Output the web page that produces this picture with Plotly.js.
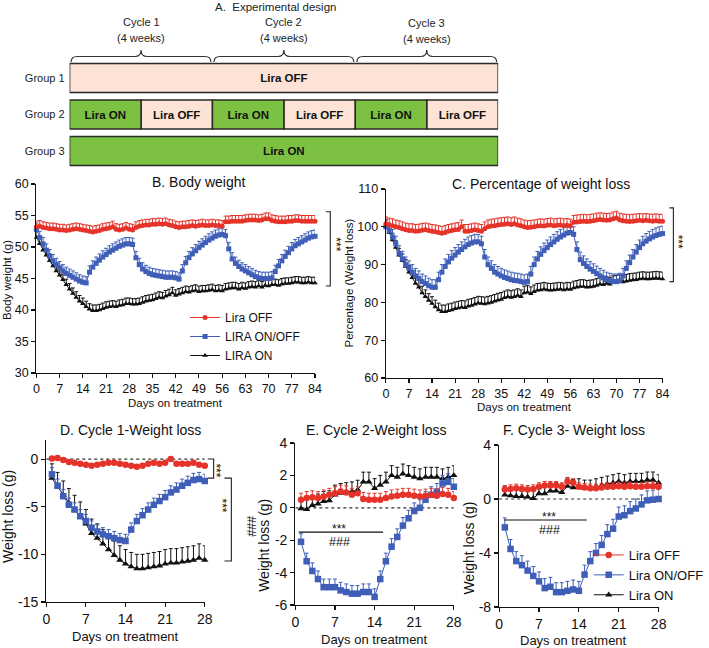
<!DOCTYPE html>
<html>
<head>
<meta charset="utf-8">
<script src="https://cdn.plot.ly/plotly-3.0.1.min.js"></script>
<style>
  html, body { margin: 0; padding: 0; background: #fff; }
  #chart { width: 709px; height: 648px; }
</style>
</head>
<body>
<div id="chart"></div>
<script>
'use strict';

// ---------- A. experimental design ----------
const cycleBounds = [0, 28, 56, 84];
const cycleNames = ['Cycle 1', 'Cycle 2', 'Cycle 3'];
const cycleLength = '(4 weeks)';
const groupNames = ['Group 1', 'Group 2', 'Group 3'];
const segGroup = [1, 2, 2, 2, 2, 2, 2, 3];
const segStart = [0, 0, 14, 28, 42, 56, 70, 0];
const segLength = [84, 14, 14, 14, 14, 14, 14, 84];
const segLabel = ['Lira OFF', 'Lira ON', 'Lira OFF', 'Lira ON', 'Lira OFF', 'Lira ON', 'Lira OFF', 'Lira ON'];

// ---------- B. body weight (g), days 0..84 ----------
const bwOff = [53.2,53.3,53.1,53.0,52.9,52.9,52.8,52.7,52.7,52.6, 52.7,52.8,52.9,52.8,52.7,52.6,52.5,52.4,52.5,52.6,
  52.8,52.9,53.0,53.2,52.8,52.7,52.8,53.0,52.8,52.7, 53.1,53.3,53.4,53.5,53.5,53.6,53.6,53.7,53.6,53.7,
  53.5,53.4,53.2,53.1,53.2,53.2,53.3,53.4,53.3,53.4, 53.5,53.4,53.4,53.5,53.4,53.4,53.3,54.0,54.0,54.1,
  54.1,54.1,54.1,54.2,54.3,54.3,54.3,54.2,54.3,54.5, 54.5,54.2,54.1,54.0,54.0,54.0,54.1,54.1,54.2,54.2,
  54.1,54.1,54.1,54.1,54.1];
const bwOnOff = [52.8,51.5,50.5,49.5,48.6,47.8,47.2,46.7,46.2,45.8, 45.5,45.2,44.9,44.6,44.4,44.3,46.0,46.8,47.4,47.9,
  48.4,48.8,49.2,49.5,49.8,50.1,50.3,50.5,50.5,50.4, 48.3,47.2,46.5,46.1,45.8,45.6,45.5,45.4,45.3,45.2,
  45.2,45.2,45.1,44.9,46.2,47.5,48.3,48.9,49.4,49.9, 50.3,50.7,51.1,51.4,51.7,51.9,52.0,51.8,49.7,48.1,
  47.4,46.9,46.5,46.2,45.9,45.6,45.3,45.1,45.0,45.0, 45.0,45.1,46.1,47.0,47.8,48.5,49.1,49.7,50.2,50.5,
  50.8,51.1,51.4,51.6,51.7];
const bwOn = [51.5,50.5,49.5,48.7,47.8,47.0,46.2,45.5,44.8,44.0, 43.3,42.6,42.0,41.4,41.0,40.5,40.1,39.9,39.9,40.0,
  40.2,40.4,40.5,40.6,40.5,40.7,40.8,41.0,41.0,40.9, 40.9,41.0,41.2,41.4,41.5,41.6,41.8,42.0,41.9,42.2,
  42.4,42.7,42.3,42.5,42.7,42.9,42.8,43.0,43.1,42.9, 43.0,43.0,43.1,43.2,43.0,43.1,43.0,43.3,43.4,43.5,
  43.5,43.3,43.5,43.4,43.6,43.7,43.6,43.8,43.6,43.9, 43.8,44.0,44.0,43.9,44.1,44.2,44.2,44.3,44.4,44.4,
  44.3,44.3,44.4,44.3,44.3];

// ---------- C. percentage of initial weight, days 0..84 ----------
const pctOff = [100.8,100.5,100.3,100.0,99.8,99.5,99.2,99.0,99.0,98.8, 98.9,99.1,99.2,99.0,98.8,98.7,98.5,98.3,98.5,98.8,
  99.0,99.2,99.3,100.0,98.8,98.8,99.0,99.2,99.0,98.8, 99.5,100.0,100.2,100.3,100.5,100.6,100.7,100.8,100.6,100.8,
  100.5,100.3,100.0,99.8,99.9,100.0,100.2,100.3,100.2,100.4, 100.5,100.3,100.4,100.5,100.3,100.4,100.2,101.2,101.3,101.4,
  101.5,101.4,101.5,101.6,101.8,101.9,101.8,101.7,101.8,102.1, 102.3,101.8,101.6,101.5,101.4,101.5,101.6,101.7,101.6,101.7,
  101.6,101.5,101.6,101.5,101.5];
const pctOnOff = [100.0,99.0,97.3,95.5,93.0,91.5,90.0,89.0,88.0,87.0, 86.3,85.5,85.0,84.4,84.0,84.0,86.0,88.0,89.5,90.7,
  91.7,92.5,93.3,94.0,94.7,95.3,95.7,96.0,96.0,95.5, 92.0,90.0,89.0,88.0,87.5,87.0,86.6,86.3,86.0,85.8,
  85.7,85.5,85.3,85.5,87.5,90.0,91.5,92.7,93.7,94.5, 95.3,96.0,96.7,97.3,97.8,98.3,98.5,98.0,94.0,91.3,
  90.3,89.5,88.8,88.2,87.6,87.0,86.5,86.0,85.7,85.5, 85.5,85.7,87.0,89.0,90.5,92.0,93.3,94.5,95.5,96.2,
  96.8,97.3,97.7,98.0,98.2];
const pctOn = [100.0,98.5,96.5,94.5,92.5,91.0,89.5,88.0,86.5,85.0, 84.0,82.5,81.5,80.5,79.7,78.8,78.0,77.5,77.5,77.8,
  78.0,78.3,78.5,78.7,78.6,79.0,79.2,79.5,79.8,79.7, 79.6,79.8,80.0,80.3,80.6,80.8,81.2,81.5,81.3,81.5,
  81.8,81.5,82.5,82.7,82.3,82.8,83.2,83.3,83.5,83.3, 83.2,83.3,83.4,83.5,83.3,83.5,83.4,83.8,84.0,84.2,
  84.2,84.0,84.1,84.2,84.5,84.8,84.7,85.0,84.8,85.2, 85.3,85.5,85.4,85.6,85.8,85.9,86.0,86.2,86.3,86.2,
  86.2,86.3,86.4,86.3,86.2];

// ---------- D/E/F. weight loss within each cycle (g), days 1..28 ----------
const dOff = [0.05,0.1,-0.1,-0.3,-0.4,-0.5,-0.6,-0.7,-0.6,-0.5, -0.4,-0.4,-0.5,-0.6,-0.7,-0.8,-0.7,-0.5,-0.4,-0.5,
  -0.4,0.0,-0.5,-0.5,-0.5,-0.4,-0.6,-0.7];
const dOnOff = [-1.6,-2.8,-3.9,-4.8,-5.3,-6.0,-6.5,-7.2,-7.6,-7.9, -8.1,-8.3,-8.5,-8.6,-7.4,-6.5,-5.9,-5.3,-4.8,-4.4,
  -4.0,-3.5,-3.2,-2.8,-2.5,-2.2,-2.1,-2.3];
const dOn = [-2.0,-2.9,-3.8,-4.6,-5.3,-6.0,-6.8,-7.8,-8.3,-8.9, -9.5,-10.1,-10.6,-11.0,-11.3,-11.5,-11.5,-11.4,-11.3,-11.2,
  -11.0,-10.9,-10.9,-10.8,-10.7,-10.6,-10.4,-10.6];

const eOff = [0.5,0.6,0.65,0.6,0.7,0.8,0.9,1.0,0.95,0.8, 0.9,0.55,0.5,0.5,0.5,0.6,0.7,0.75,0.8,0.8,
  0.75,0.7,0.75,0.8,0.75,0.85,0.8,0.6];
const eOnOff = [-2.1,-3.3,-3.9,-4.4,-4.9,-4.9,-4.9,-5.1,-5.2,-5.3, -5.3,-5.2,-5.2,-5.5,-4.4,-3.3,-2.4,-1.8,-1.1,-0.65,
  -0.2,0.0,0.5,0.8,1.0,1.5,1.6,1.3];
const eOn = [-0.05,-0.1,0.15,0.25,0.4,0.45,0.8,0.9,0.95,1.0, 1.1,1.6,1.6,1.2,1.4,1.6,2.0,1.9,2.1,2.0,
  1.9,1.8,1.9,1.9,1.9,1.8,1.9,2.0];

const fOff = [0.7,0.75,0.8,0.75,0.7,0.75,0.9,1.0,1.0,1.0, 0.9,1.3,1.2,0.9,0.85,0.8,0.8,0.85,0.9,0.9,
  0.95,0.9,0.95,0.9,0.9,0.95,0.95,0.9];
const fOnOff = [-2.1,-3.7,-4.6,-4.9,-5.3,-5.7,-6.1,-6.6,-6.5,-6.9, -6.9,-6.8,-6.7,-6.8,-5.6,-4.6,-4.0,-3.4,-2.6,-2.2,
  -1.3,-1.2,-0.9,-0.7,-0.4,-0.1,-0.05,0.0];
const fOn = [0.3,0.25,0.2,0.2,0.15,0.05,0.4,0.4,0.6,0.6, 0.5,0.95,0.85,0.9,0.8,0.8,0.9,1.0,1.1,1.2,
  1.3,1.2,1.3,1.3,1.3,1.4,1.4,1.2];

// upward SEM bars, one value per series
const semB = {off: 0.9, onoff: 1.0, on: 0.9};
const semC = {off: 1.8, onoff: 2.0, on: 1.8};
const semD = {off: 0.2, onoff: 0.7, on: 1.5};
const semE = {off: 0.4, onoff: 0.5, on: 0.6};
const semF = {off: 0.3, onoff: 0.7, on: 0.6};

// tick labels (plain hyphen minus, as in the figure)
const dTicks = [-15, -10, -5, 0];
const eTicks = [-6, -4, -2, 0, 2, 4];
const fTicks = [-8, -4, 0, 4];
const tickText = v => String(v);

const legendB = {off: 'Lira OFF', onoff: 'LIRA ON/OFF', on: 'LIRA ON'};
const legendF = {off: 'Lira OFF', onoff: 'Lira ON/OFF', on: 'Lira ON'};

// ---------- styling ----------
const W = 709, H = 648;
const X = px => px / W;
const Y = py => 1 - py / H;
const FONT = 'Liberation Sans, Arial, sans-serif';
const INK = '#111';
const GREEN = '#7DC142';
const PINK = '#FCE3D5';
const STYLE = {
    off: {color: '#E5332A', symbol: 'circle'},
    onoff: {color: '#3E5EB8', symbol: 'square'},
    on: {color: '#111111', symbol: 'triangle-up'}
};

const daysLong = Array.from({length: 85}, (_, i) => i);
const daysShort = Array.from({length: 28}, (_, i) => i + 1);

function series(key, x, y, sem, ax, size, name, legend) {
    const s = STYLE[key];
    return {
        type: 'scatter', mode: 'lines+markers', x: x, y: y,
        xaxis: ax[0], yaxis: ax[1], cliponaxis: false,
        name: name || key, showlegend: !!name, legend: legend || 'legend',
        line: {color: s.color, width: 1},
        marker: {color: s.color, symbol: s.symbol, size: size, line: {width: 0}},
        error_y: {type: 'constant', symmetric: false, value: sem[key], valueminus: 0,
            color: s.color, thickness: 1, width: 2},
        hoverinfo: 'skip'
    };
}

function designTrace(label, color) {
    const idx = segLabel.map((l, i) => l === label ? i : -1).filter(i => i >= 0);
    return {
        type: 'bar', orientation: 'h', xaxis: 'x6', yaxis: 'y6',
        y: idx.map(i => segGroup[i]), x: idx.map(i => segLength[i]), base: idx.map(i => segStart[i]),
        width: 0.8, showlegend: false, hoverinfo: 'skip',
        marker: {color: color, line: {color: '#2a2a2a', width: 1.5}},
        text: idx.map(i => '<b>' + segLabel[i] + '</b>'),
        textposition: 'inside', insidetextanchor: 'middle', textangle: 0, constraintext: 'none',
        textfont: {family: FONT, size: 11.5, color: INK}
    };
}

const data = [
    designTrace('Lira OFF', PINK),
    designTrace('Lira ON', GREEN),

    series('on', daysLong, bwOn, semB, ['x', 'y'], 5, legendB.on),
    series('onoff', daysLong, bwOnOff, semB, ['x', 'y'], 5, legendB.onoff),
    series('off', daysLong, bwOff, semB, ['x', 'y'], 5, legendB.off),

    series('on', daysLong, pctOn, semC, ['x2', 'y2'], 5),
    series('onoff', daysLong, pctOnOff, semC, ['x2', 'y2'], 5),
    series('off', daysLong, pctOff, semC, ['x2', 'y2'], 5),

    series('on', daysShort, dOn, semD, ['x3', 'y3'], 6.5),
    series('onoff', daysShort, dOnOff, semD, ['x3', 'y3'], 6.5),
    series('off', daysShort, dOff, semD, ['x3', 'y3'], 6.5),

    series('on', daysShort, eOn, semE, ['x4', 'y4'], 6.5),
    series('onoff', daysShort, eOnOff, semE, ['x4', 'y4'], 6.5),
    series('off', daysShort, eOff, semE, ['x4', 'y4'], 6.5),

    series('on', daysShort, fOn, semF, ['x5', 'y5'], 6.5, legendF.on, 'legend2'),
    series('onoff', daysShort, fOnOff, semF, ['x5', 'y5'], 6.5, legendF.onoff, 'legend2'),
    series('off', daysShort, fOff, semF, ['x5', 'y5'], 6.5, legendF.off, 'legend2')
];

function axis(domain, range, size, extra) {
    return Object.assign({
        domain: domain, range: range, showline: true, linecolor: INK, linewidth: 1.2,
        ticks: 'outside', ticklen: 4, tickwidth: 1.1, tickcolor: INK,
        showgrid: false, zeroline: false, fixedrange: true,
        tickfont: {family: FONT, size: size, color: INK}
    }, extra);
}

function note(text, px, py, size, extra) {
    return Object.assign({
        text: text, x: X(px), y: Y(py), xref: 'paper', yref: 'paper', showarrow: false,
        xanchor: 'center', yanchor: 'middle', font: {family: FONT, size: size, color: INK}
    }, extra);
}

// curly braces above the design bars, one per cycle
const braces = cycleNames.map((_, i) => {
    const a = cycleBounds[i] + 0.3, b = cycleBounds[i + 1] - 0.3;
    const m = (cycleBounds[i] + cycleBounds[i + 1]) / 2, r = 1.2;
    const yb = Y(62), ym = Y(56.5), yt = Y(50);
    return {
        type: 'path', xref: 'x6', yref: 'paper', line: {color: '#333', width: 1.2},
        path: `M${a},${yb} Q${a},${ym} ${a + r},${ym} L${m - r},${ym} Q${m},${ym} ${m},${yt} ` +
              `Q${m},${ym} ${m + r},${ym} L${b - r},${ym} Q${b},${ym} ${b},${yb}`
    };
});

function bracket(yref, xin, xout, top, bottom) {
    return {
        type: 'path', xref: 'paper', yref: yref, line: {color: '#222', width: 1.1},
        path: `M${X(xin)},${top} L${X(xout)},${top} L${X(xout)},${bottom} L${X(xin)},${bottom}`
    };
}

function zeroLine(xa, ya) {
    return {type: 'line', xref: xa, yref: ya, x0: 0, x1: 28, y0: 0, y1: 0, layer: 'below',
        line: {color: '#333', width: 1.2, dash: 'dot'}};
}

function hLine(xa, ya, x0, x1, yv) {
    return {type: 'line', xref: xa, yref: ya, x0: x0, x1: x1, y0: yv, y1: yv,
        line: {color: '#111', width: 1.1}};
}

const shapes = braces.concat([
    bracket('y', 331, 335.5, 55.6, 43.8),
    bracket('y2', 680, 684, 105, 85.5),
    bracket('y3', 211, 217, 0, -2.0),
    bracket('y3', 228, 235, -2.0, -10.7),
    zeroLine('x3', 'y3'), zeroLine('x4', 'y4'), zeroLine('x5', 'y5'),
    hLine('x4', 'y4', 0.6, 15.5, -1.5),
    hLine('x5', 'y5', 0.9, 15.4, -1.55)
]);

function cycleNote(text, i, py) {
    return {
        text: text, x: (cycleBounds[i] + cycleBounds[i + 1]) / 2, y: Y(py), xref: 'x6', yref: 'paper',
        showarrow: false, xanchor: 'center', yanchor: 'middle',
        font: {family: FONT, size: 11, color: '#222'}
    };
}

const annotations = [
    note('A.  Experimental design', 280, 7, 11.5, {font: {family: FONT, size: 11.5, color: '#222'}}),
    ...cycleNames.map((t, i) => cycleNote(t, i, i === 2 ? 23 : 22)),
    ...cycleNames.map((t, i) => cycleNote(cycleLength, i, i === 2 ? 39 : 38)),

    note('B. Body weight', 202, 182, 14),
    note('C. Percentage of weight loss', 550, 184, 14),
    note('D. Cycle 1-Weight loss', 133, 430, 14),
    note('E. Cycle 2-Weight loss', 382, 430, 14),
    note('F. Cycle 3- Weight loss', 583, 430, 14),

    note('Days on treatment', 178, 403, 11.5),
    note('Days on treatment', 533, 407, 11.5),
    note('Days on treatment', 127, 636, 13),
    note('Days on treatment', 380, 639, 13),
    note('Days on treatment', 583, 640, 13),

    note('Body weight (g)', 7, 280, 11.5, {textangle: -90}),
    note('Percentage (Weight loss)', 354, 283, 11.5, {textangle: -90}),
    note('Weight loss (g)', 8, 516, 14, {textangle: -90}),
    note('Weight loss (g)', 268, 545, 14, {textangle: -90}),
    note('Weight loss (g)', 476, 548, 14, {textangle: -90}),

    note('***', 341, 244, 12, {textangle: 90}),
    note('***', 689, 242, 12, {textangle: 90}),
    note('***', 219, 470, 12, {textangle: 90}),
    note('***', 226, 506, 12, {textangle: 90}),
    note('###', 255, 526, 12.5, {textangle: 90}),

    {text: '***', x: 7.8, y: -1.5, xref: 'x4', yref: 'y4', showarrow: false, yanchor: 'bottom', yshift: -6,
        font: {family: FONT, size: 12, color: INK}},
    {text: '###', x: 7.8, y: -1.5, xref: 'x4', yref: 'y4', showarrow: false, yanchor: 'top', yshift: -1,
        font: {family: FONT, size: 12.5, color: INK}},
    {text: '***', x: 8.8, y: -1.55, xref: 'x5', yref: 'y5', showarrow: false, yanchor: 'bottom', yshift: -6,
        font: {family: FONT, size: 12, color: INK}},
    {text: '###', x: 8.8, y: -1.55, xref: 'x5', yref: 'y5', showarrow: false, yanchor: 'top', yshift: -1,
        font: {family: FONT, size: 12.5, color: INK}}
];

const layout = {
    width: W, height: H, margin: {l: 0, r: 0, t: 0, b: 0},
    paper_bgcolor: '#fff', plot_bgcolor: 'rgba(0,0,0,0)',
    barmode: 'overlay', showlegend: true, hovermode: false,
    font: {family: FONT, color: INK},

    xaxis6: {domain: [X(70.7), X(506)], range: [0, 84], visible: false, fixedrange: true, anchor: 'y6'},
    yaxis6: {domain: [Y(169.25), Y(59.75)], range: [3.5, 0.5], anchor: 'x6', fixedrange: true,
        showline: false, showgrid: false, zeroline: false, ticks: '',
        tickvals: [1, 2, 3], ticktext: groupNames, ticklabelstandoff: 4,
        tickfont: {family: FONT, size: 11, color: '#222'}},

    xaxis: axis([X(37), X(320)], [0, 84], 12.5, {anchor: 'y', dtick: 7, tick0: 0}),
    yaxis: axis([Y(373), Y(184)], [30, 60], 12.5, {anchor: 'x', dtick: 5, tick0: 30}),

    xaxis2: axis([X(392), X(673)], [0, 84], 12.5, {anchor: 'y2', dtick: 7, tick0: 0}),
    yaxis2: axis([Y(378), Y(189)], [60, 110], 12.5, {anchor: 'x2', dtick: 10, tick0: 60}),

    xaxis3: axis([X(47), X(208)], [0, 28], 14, {anchor: 'y3', dtick: 7, tick0: 0}),
    yaxis3: axis([Y(602), Y(440)], [-15, 2], 14, {anchor: 'x3', tickvals: dTicks, ticktext: dTicks.map(tickText)}),

    xaxis4: axis([X(300), X(461)], [0, 28], 14, {anchor: 'y4', dtick: 7, tick0: 0}),
    yaxis4: axis([Y(605), Y(443)], [-6, 4], 14, {anchor: 'x4', tickvals: eTicks, ticktext: eTicks.map(tickText)}),

    xaxis5: axis([X(507), X(669)], [0, 28], 14, {anchor: 'y5', dtick: 7, tick0: 0}),
    yaxis5: axis([Y(607), Y(445)], [-8, 4], 14, {anchor: 'x5', tickvals: fTicks, ticktext: fTicks.map(tickText)}),

    legend: {x: X(188), y: Y(303), xanchor: 'left', yanchor: 'top', traceorder: 'reversed',
        bgcolor: 'rgba(0,0,0,0)', font: {family: FONT, size: 12, color: INK}},
    legend2: {x: X(598), y: Y(540), xanchor: 'left', yanchor: 'top', traceorder: 'reversed',
        bgcolor: 'rgba(0,0,0,0)', font: {family: FONT, size: 13, color: INK}},

    shapes: shapes,
    annotations: annotations
};

Plotly.newPlot('chart', data, layout, {displayModeBar: false, staticPlot: true});
</script>
</body>
</html>
